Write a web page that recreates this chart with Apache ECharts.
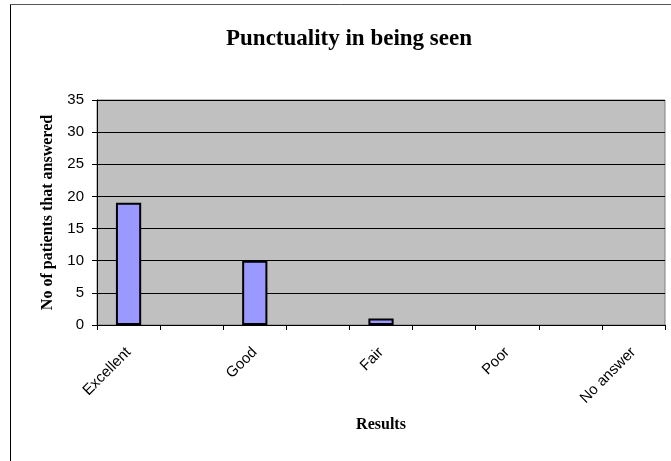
<!DOCTYPE html>
<html>
<head>
<meta charset="utf-8">
<script src="https://cdn.jsdelivr.net/npm/echarts@6/dist/echarts.min.js"></script>
<style>
html,body{margin:0;padding:0;background:#fff;}
#c{width:671px;height:461px;}
</style>
</head>
<body>
<div id="c"></div>
<script>
const categories = ['Excellent', '', 'Good', '', 'Fair', '', 'Poor', '', 'No answer'];
const values = [19, 0, 10, 0, 1, 0, 0, 0, 0];
const yTicks = [0, 5, 10, 15, 20, 25, 30, 35];

const barData = values.map(function (v) {
  return v === 0 ? {value: v, itemStyle: {borderWidth: 0}} : {value: v};
});

const chart = echarts.init(document.getElementById('c'), null, {renderer: 'canvas'});
chart.setOption({
  animation: false,
  backgroundColor: '#fff',
  title: {
    text: 'Punctuality in being seen',
    left: 226,
    top: 28,
    padding: 0,
    textStyle: {fontFamily: 'Liberation Serif', fontWeight: 'bold', fontSize: 23, color: '#000'}
  },
  graphic: [
    {type: 'line', shape: {x1: 10.5, y1: 4, x2: 10.5, y2: 461}, style: {stroke: '#000', lineWidth: 1}, silent: true},
    {type: 'line', shape: {x1: 10, y1: 4.5, x2: 671, y2: 4.5}, style: {stroke: '#555', lineWidth: 1}, silent: true}
  ],
  grid: {
    left: 97, top: 100, right: 6, bottom: 136,
    show: true, backgroundColor: '#C0C0C0', borderColor: '#808080', borderWidth: 1
  },
  xAxis: {
    type: 'category',
    data: categories,
    name: 'Results',
    nameLocation: 'middle',
    nameGap: 92,
    nameTextStyle: {fontFamily: 'Liberation Serif', fontWeight: 'bold', fontSize: 16, color: '#000'},
    axisLine: {lineStyle: {color: '#000', width: 1}},
    axisTick: {show: true, alignWithLabel: false, length: 5, lineStyle: {color: '#000'}, interval: 0},
    axisLabel: {interval: 0, rotate: 45, margin: 25, fontFamily: 'Liberation Sans', fontSize: 15, color: '#000'}
  },
  yAxis: {
    type: 'value',
    min: 0, max: 35, interval: 5,
    name: 'No of patients that answered',
    nameLocation: 'middle',
    nameGap: 41,
    nameTextStyle: {fontFamily: 'Liberation Serif', fontWeight: 'bold', fontSize: 16, color: '#000'},
    axisLine: {show: true, lineStyle: {color: '#000', width: 1}},
    axisTick: {show: true, length: 5, lineStyle: {color: '#000'}},
    axisLabel: {
      margin: 13, fontFamily: 'Liberation Sans', fontSize: 15, color: '#000',
      formatter: function (v) { return yTicks.indexOf(v) >= 0 ? String(v) : ''; }
    },
    splitLine: {show: true, lineStyle: {color: '#000', width: 1}}
  },
  series: [{
    type: 'bar',
    data: barData,
    barCategoryGap: '60%',
    itemStyle: {color: '#9999FF', borderColor: '#000', borderWidth: 2}
  }]
});
</script>
</body>
</html>
